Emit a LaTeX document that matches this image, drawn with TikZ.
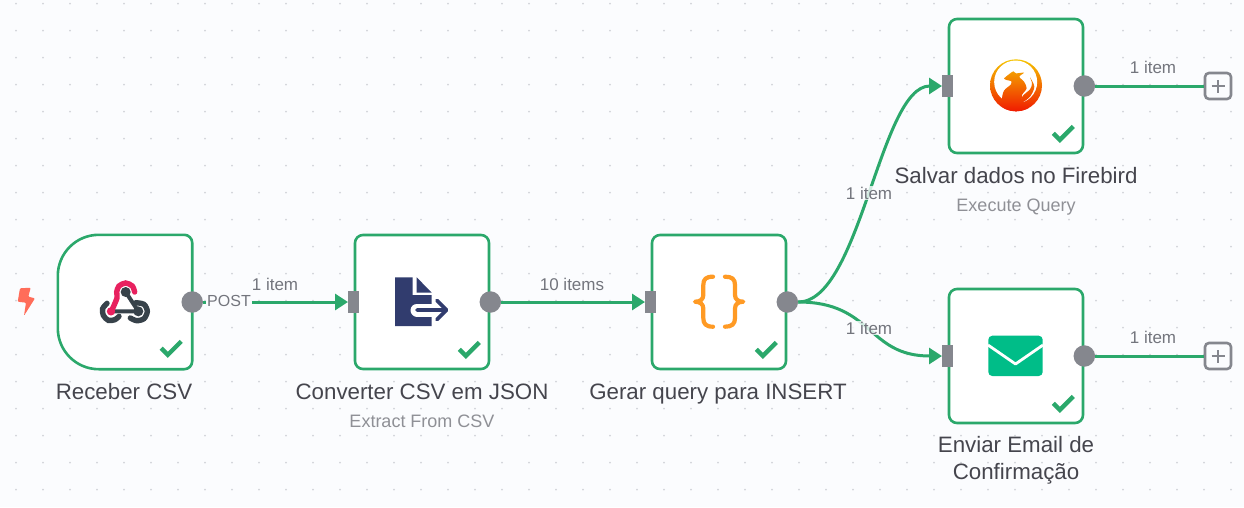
\documentclass[tikz,border=0pt]{standalone}
\usepackage{fontspec}
\setmainfont{Liberation Sans}
\usetikzlibrary{arrows.meta}

\definecolor{bgcol}{HTML}{FBFCFE}
\definecolor{gridcol}{HTML}{D2D4D9}
\definecolor{okgreen}{HTML}{2BA86B}
\definecolor{portgray}{HTML}{85878E}
\definecolor{titlecol}{HTML}{45454D}
\definecolor{subcol}{HTML}{8F9096}
\definecolor{itemcol}{HTML}{73757D}
\definecolor{navy}{HTML}{313C6E}
\definecolor{hookpink}{HTML}{E8215F}
\definecolor{hookdark}{HTML}{37424A}
\definecolor{mailgreen}{HTML}{00BD88}
\definecolor{boltcol}{HTML}{FF6D5A}
\definecolor{bracecol}{HTML}{FF9A24}
\definecolor{firetop}{HTML}{F5C400}
\definecolor{firemid}{HTML}{F59418}
\definecolor{firelow}{HTML}{F01A00}

\def \boxsize {134pt}
\def \boxlw {2.6pt}

\tikzset{
  nodebox/.style={draw=okgreen, line width=\boxlw, fill=white, rounded corners=8pt, minimum size=\boxsize, inner sep=0pt},
  triggerbox/.style={minimum size=\boxsize, inner sep=0pt},
  outport/.style={circle, fill=portgray, minimum size=21.5pt, inner sep=0pt},
  inport/.style={rectangle, fill=portgray, minimum width=11pt, minimum height=22pt, inner sep=0pt},
  plusbox/.style={draw=portgray, line width=2.6pt, fill=bgcol, rounded corners=4pt, minimum size=26pt, inner sep=0pt,
    path picture={\draw[portgray, line width=2.4pt] (path picture bounding box.center) +(-6.5pt,0) -- +(6.5pt,0) +(0,-6.5pt) -- +(0,6.5pt);}},
  edge/.style={draw=okgreen, line width=3pt},
  arrowedge/.style={edge, -{Triangle[length=13pt,width=16pt]}},
  oktick/.style={okgreen, line width=4.4pt},
  title/.style={text=titlecol, font=\fontsize{22.3}{27}\selectfont, inner sep=0pt, align=center},
  subtitle/.style={text=subcol, font=\fontsize{18}{20}\selectfont, inner sep=0pt, anchor=base},
  itemlabel/.style={text=itemcol, font=\fontsize{17}{20}\selectfont, inner sep=1pt, fill=bgcol, fill opacity=.8, text opacity=1},
  fireshade/.style={top color=firetop, middle color=firemid, bottom color=firelow}
}

\def \okmark #1{\draw[oktick] ([shift={(-31pt,21pt)}]#1.south east) -- ++(6.6pt,-6.6pt) -- ++(13.4pt,13.4pt);}

\begin{document}
\begin{tikzpicture}[x=1pt,y=-1pt]
\useasboundingbox (0,0) rectangle (1244,507);
\fill[bgcol] (0,0) rectangle (1244,507);
% dotted canvas
\foreach \gx in {0,...,45} {
  \foreach \gy in {0,...,18} {
    \fill[gridcol] (16+27*\gx,3.7+27*\gy) circle (1pt);
  }
}

% boxes
\node[triggerbox] (recv) at (125,302) {};
\draw[draw=okgreen, line width=\boxlw, fill=white] (recv.east) -- ([yshift=-8pt]recv.north east) arc[start angle=0,end angle=90,radius=8pt] -- ([xshift=41pt]recv.north west) arc[start angle=90,end angle=180,radius=41pt] -- ([yshift=41pt]recv.south west) arc[start angle=180,end angle=270,radius=41pt] -- ([xshift=-8pt]recv.south east) arc[start angle=270,end angle=360,radius=8pt] -- cycle;
\node[nodebox] (csv) at (422,302) {};
\node[nodebox] (query) at (719,302) {};
\node[nodebox] (fire) at (1016,86) {};
\node[nodebox] (mail) at (1016,356) {};

% ports
\node[outport] (recvout) at (recv.east) {};
\node[inport] (csvin) at (csv.west) {};
\node[outport] (csvout) at (csv.east) {};
\node[inport] (queryin) at (query.west) {};
\node[outport] (queryout) at (query.east) {};
\node[inport] (firein) at (fire.west) {};
\node[outport] (fireout) at (fire.east) {};
\node[inport] (mailin) at (mail.west) {};
\node[outport] (mailout) at (mail.east) {};
\node[plusbox] (fireplus) at (1218,86) {};
\node[plusbox] (mailplus) at (1218,356) {};

% connectors
\draw[arrowedge] (recvout) -- (csvin);
\draw[arrowedge] (csvout) -- (queryin);
\draw[arrowedge] (queryout.east) .. controls +(62,0) and +(-62,0) .. (firein.west);
\draw[arrowedge] (queryout.east) .. controls +(75,0) and +(-75,0) .. (mailin.west);
\draw[edge] (fireout) -- (fireplus);
\draw[edge] (mailout) -- (mailplus);

% connector labels
\node[itemlabel, fill opacity=1, font=\fontsize{16}{20}\selectfont] (postlbl) at (229,301) {POST};
\node[itemlabel] (item1) at (275,284) {1 item};
\node[itemlabel] (item2) at (572,284) {10 items};
\node[itemlabel] (item3) at (869,193) {1 item};
\node[itemlabel] (item4) at (869,328) {1 item};
\node[itemlabel] (item5) at (1153,67) {1 item};
\node[itemlabel] (item6) at (1153,337) {1 item};

% node texts
\node[title, anchor=base] (recvlbl) at (124,399) {Receber CSV};
\node[title, anchor=base] (csvlbl) at (422,399) {Converter CSV em JSON};
\node[subtitle] (csvsub) at (422,427) {Extract From CSV};
\node[title, anchor=base] (querylbl) at (718,399) {Gerar query para INSERT};
\node[title, anchor=base] (firelbl) at (1016,183) {Salvar dados no Firebird};
\node[subtitle] (firesub) at (1016,211) {Execute Query};
\node[title] (maillbl) at (1016,460) {Enviar Email de\\Confirmação};

% check marks
\okmark{recv}
\okmark{csv}
\okmark{query}
\okmark{fire}
\okmark{mail}

% bolt
\fill[boltcol, rounded corners=1pt] (20,288.3) -- (30.7,287.7) -- (28.3,296.7) -- (35,298.3) -- (24,315.7) -- (26,302.7) -- (17.7,301.7) -- cycle;

% webhook icon
\begin{scope}[shift={(95,272)},x=.3333pt,y=-.3333pt]
\draw[hookdark, line width=5.4pt, line cap=round] plot[smooth] coordinates {(36,94) (23,110) (25,130) (40,145) (60,143) (72,133)};
\draw[hookdark, line width=5.4pt, line cap=round] plot[smooth] coordinates {(122,92) (147,97) (157,118) (147,140) (125,146) (106,138)};
\draw[hookdark, line width=4pt] (92,60) -- (130,118) (50,118) -- (130,118);
\fill[hookdark] (92,60) circle (5pt) (130,118) circle (5pt);
\draw[hookpink, line width=5.4pt, line cap=round] plot[smooth] coordinates {(119,60) (112,42) (92,33) (72,42) (65,60) (66,78) (50,116)};
\fill[hookpink] (48,118) circle (4.2pt);
\end{scope}

% document icon
\fill[navy] (395,277.3) -- (412.7,277.3) -- (412.7,295) -- (431.7,295) -- (431.7,326) -- (395,326) -- cycle;
\fill[navy] (416.7,277.3) -- (431.7,292.7) -- (416.7,292.7) -- cycle;
\draw[white, line width=13pt, line cap=round] (417,310) -- (436,310);
\draw[navy, line width=3.8pt, line cap=round, line join=round] (417,310) -- (446,310) (437,300.5) -- (446.5,310) -- (437,319.5);

% braces
\draw[bracecol, line width=4.2pt, line cap=round, line join=round] (713,276.7) .. controls (706,276.7) and (703.3,279) .. (703.3,285) -- (703.3,295) .. controls (703.3,299.5) and (700,301.7) .. (695,301.7) .. controls (700,301.7) and (703.3,304) .. (703.3,308.5) -- (703.3,318) .. controls (703.3,324) and (706,326.7) .. (713,326.7);
\draw[bracecol, line width=4.2pt, line cap=round, line join=round] (725,276.7) .. controls (732,276.7) and (735,279) .. (735,285) -- (735,295) .. controls (735,299.5) and (738.3,301.7) .. (743.3,301.7) .. controls (738.3,301.7) and (735,304) .. (735,308.5) -- (735,318) .. controls (735,324) and (732,326.7) .. (725,326.7);

% firebird icon
\begin{scope}[shift={(980,50)},x=.3333pt,y=-.3333pt]
\def \firedisc {(108,106) circle (26pt)}
\shade[fireshade] \firedisc;
\fill[white] (107,96) circle (21.5pt);
\begin{scope}
\clip plot[smooth cycle] coordinates {(72,86) (88,72) (100,64) (108,70) (132,68) (118,80) (132,95) (140,115) (126,135) (128,155) (150,185) (75,185) (66,150) (72,122) (92,104) (94,94) (84,91)};
\shade[fireshade] \firedisc;
\end{scope}
\begin{scope}
\clip plot[smooth cycle] coordinates {(150,82) (163,110) (150,140) (122,160) (128,138) (150,118) (156,100)};
\shade[fireshade] \firedisc;
\end{scope}
\end{scope}

% mail icon
\fill[mailgreen, rounded corners=4pt] (988.3,335.7) rectangle (1042.7,376);
\draw[white, line width=2.8pt, line join=round] (988,345) -- (1015.5,364) -- (1043,345);
\end{tikzpicture}
\end{document}
